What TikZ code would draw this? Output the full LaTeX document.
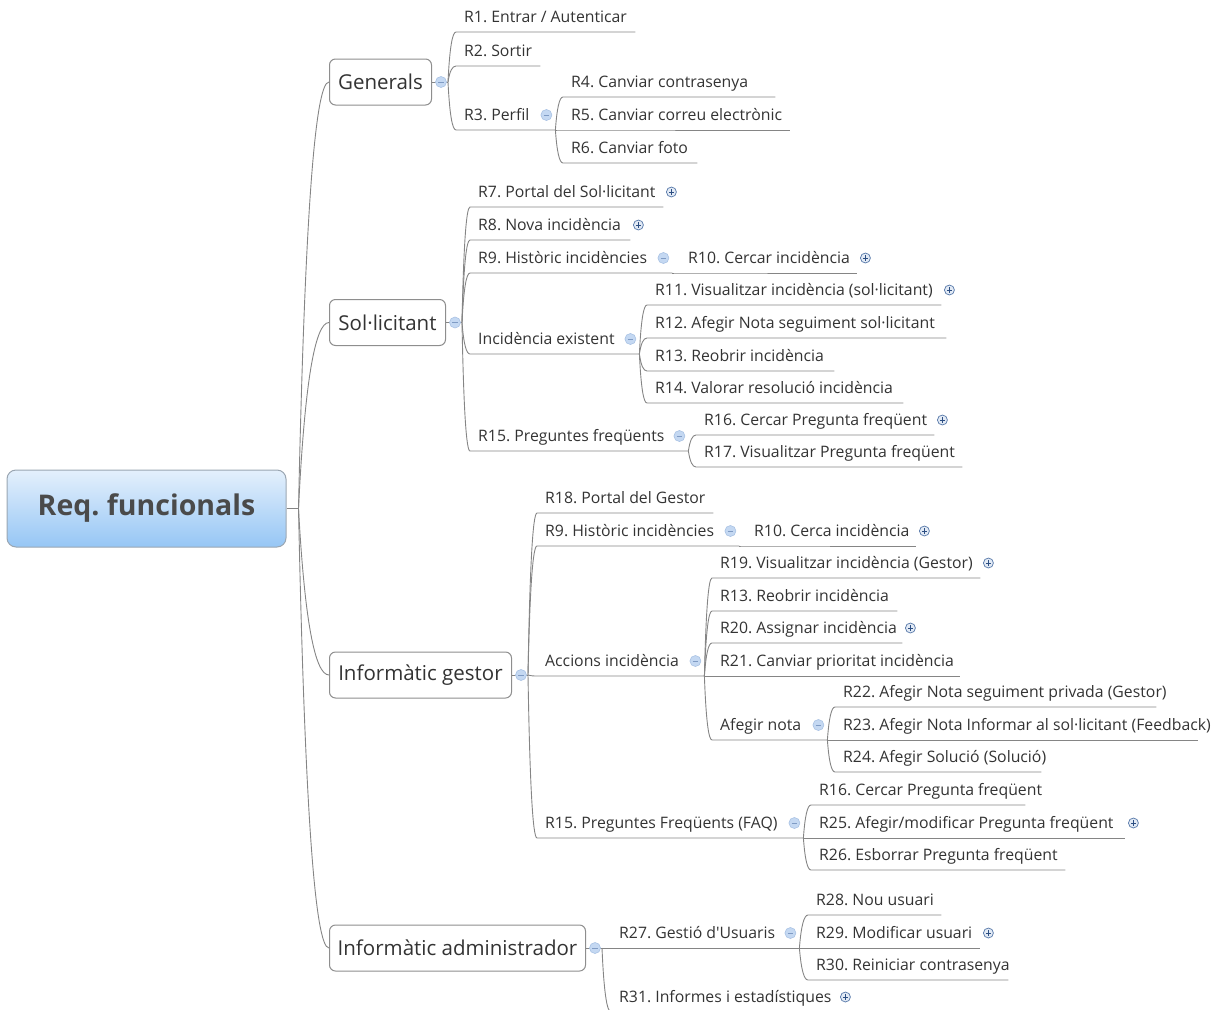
\documentclass[tikz,border=0pt]{standalone}
\usepackage{fontspec}
\setmainfont{Open Sans}
\usetikzlibrary{calc}
\frenchspacing

\definecolor{linegray}{HTML}{858585}
\definecolor{boxgray}{HTML}{8E8E8E}
\definecolor{ink}{HTML}{333333}
\definecolor{rootink}{HTML}{4A4A4A}
\definecolor{roottop}{HTML}{E4F0FC}
\definecolor{rootbot}{HTML}{96C6F5}
\definecolor{rootedge}{HTML}{9AA6B2}
\definecolor{foldfill}{HTML}{C4D8F2}
\definecolor{foldedge}{HTML}{A9C2E4}
\definecolor{foldbar}{HTML}{7F9BC4}
\definecolor{expfill}{HTML}{E2EAF5}
\definecolor{expedge}{HTML}{5577A8}
\definecolor{expbar}{HTML}{2C4E82}

\tikzset{
  conn/.style={draw=linegray, line width=0.9pt},
  roottopic/.style={draw=rootedge, line width=1pt, rounded corners=9pt,
    top color=roottop, bottom color=rootbot,
    minimum width=279pt, minimum height=77pt,
    font=\fontsize{28.5}{32}\selectfont\bfseries, text=rootink},
  topic/.style={anchor=west, draw=boxgray, line width=1pt, rounded corners=6pt,
    fill=white, minimum height=46pt, inner xsep=0pt,
    font=\fontsize{20.5}{24}\selectfont, text=ink},
  leaf/.style={anchor=south west, inner xsep=8pt, inner ysep=0pt,
    text height=12pt, text depth=9pt,
    font=\fontsize{15.8}{19}\selectfont, text=ink},
  fold/.style={circle, inner sep=0pt, minimum size=11pt, fill=foldfill,
    draw=foldedge, line width=0.6pt,
    path picture={\draw[foldbar, line width=1pt]
      ([xshift=-2.8pt]path picture bounding box.center) --
      ([xshift=2.8pt]path picture bounding box.center);}},
  expand/.style={circle, inner sep=0pt, minimum size=10pt, fill=expfill,
    draw=expedge, line width=0.7pt,
    path picture={\draw[expbar, line width=0.9pt]
      ([xshift=-2.6pt]path picture bounding box.center) --
      ([xshift=2.6pt]path picture bounding box.center)
      ([yshift=-2.6pt]path picture bounding box.center) --
      ([yshift=2.6pt]path picture bounding box.center);}},
}

% underlined topic: name, left x, underline y, right x, text
\newcommand\leaftopic[5]{%
  \node[leaf] (#1) at (#2,#3)
    {\makebox[\dimexpr #4pt-#2pt-16pt\relax][l]{#5}};}
% curved branch from a junction into a topic's underline
\newcommand\branchto[2]{%
  \draw[conn] let \p1=(#1), \p2=(#2.south west) in
    (\p1) .. controls ({\x1+0.2*(\x2-\x1)},{\y1+0.667*(\y2-\y1)})
          and ({\x2-0.467*(\x2-\x1)},{\y2}) .. (\p2) -- (#2.south east);}
% curved branch from a junction into a boxed topic
\newcommand\branchbox[2]{%
  \draw[conn] let \p1=(#1), \p2=(#2.west) in
    (\p1) .. controls ({\x1+0.2*(\x2-\x1)},{\y1+0.667*(\y2-\y1)})
          and ({\x2-0.467*(\x2-\x1)},{\y2}) .. (\p2);}
% collapse and expand markers of underlined topics
\newcommand\foldmark[1]{\node[fold] (#1-fold) at ([xshift=-9pt,yshift=15pt]#1.south east) {};}
\newcommand\expandmark[1]{\node[expand] (#1-more) at ([xshift=8pt,yshift=15pt]#1.south east) {};}

\begin{document}
\begin{tikzpicture}[x=1pt, y=-1pt]
\useasboundingbox (0,0) rectangle (1225,1009);
\clip (0,0) rectangle (1225,1009);

% central topic and main topics
\node[roottopic] (root) at (146.5,508.5) {Req. funcionals};
\coordinate (root-j) at ([xshift=12pt]root.east);

\node[topic, minimum width=102pt] (gen) at (329,82) {Generals};
\node[topic, minimum width=116pt] (sol) at (329,322.5) {Sol·licitant};
\node[topic, minimum width=182pt] (ges) at (329,675) {Informàtic gestor};
\node[topic, minimum width=256pt] (adm) at (329,948) {Informàtic administrador};
\foreach \t in {gen,sol,ges,adm} {\coordinate (\t-j) at ([xshift=16pt]\t.east);}

% Generals
\leaftopic{r1}{456}{32}{635}{R1. Entrar / Autenticar}
\leaftopic{r2}{456}{66}{540}{R2. Sortir}
\leaftopic{r3}{456}{130}{555}{R3. Perfil}
\leaftopic{r4}{563}{97}{775}{R4. Canviar contrasenya}
\leaftopic{r5}{563}{130}{790}{R5. Canviar correu electrònic}
\leaftopic{r6}{563}{163}{697}{R6. Canviar foto}

% Sol·licitant
\leaftopic{s7}{470}{207}{663}{R7. Portal del Sol·licitant}
\leaftopic{s8}{470}{240}{630}{R8. Nova incidència}
\leaftopic{s9}{470}{273}{672}{R9. Històric incidències}
\leaftopic{s10}{680}{273}{857}{R10. Cercar incidència}
\leaftopic{sie}{470}{354}{639}{Incidència existent}
\leaftopic{s11}{647}{305}{941}{R11. Visualitzar incidència (sol·licitant)}
\leaftopic{s12}{647}{338}{946}{R12. Afegir Nota seguiment sol·licitant}
\leaftopic{s13}{647}{371}{834}{R13. Reobrir incidència}
\leaftopic{s14}{647}{403}{903}{R14. Valorar resolució incidència}
\leaftopic{s15}{470}{451}{688}{R15. Preguntes freqüents}
\leaftopic{s16}{696}{435}{934}{R16. Cercar Pregunta freqüent}
\leaftopic{s17}{696}{467}{962}{R17. Visualitzar Pregunta freqüent}

% Informàtic gestor
\leaftopic{g18}{537}{513}{713}{R18. Portal del Gestor}
\leaftopic{g9}{537}{546}{739}{R9. Històric incidències}
\leaftopic{g10}{746}{546}{916}{R10. Cerca incidència}
\leaftopic{gac}{537}{676}{704}{Accions incidència}
\leaftopic{g19}{712}{578}{980}{R19. Visualitzar incidència (Gestor)}
\leaftopic{g13}{712}{611}{897}{R13. Reobrir incidència}
\leaftopic{g20}{712}{643}{902}{R20. Assignar incidència}
\leaftopic{g21}{712}{676}{960}{R21. Canviar prioritat incidència}
\leaftopic{gan}{712}{740}{827}{Afegir nota}
\leaftopic{g22}{835}{707}{1156}{R22. Afegir Nota seguiment privada (Gestor)}
\leaftopic{g23}{835}{740}{1198}{R23. Afegir Nota Informar al sol·licitant (Feedback)}
\leaftopic{g24}{835}{772}{1041}{R24. Afegir Solució (Solució)}
\leaftopic{g15}{537}{838}{803}{R15. Preguntes Freqüents (FAQ)}
\leaftopic{g16}{811}{805}{1025}{R16. Cercar Pregunta freqüent}
\leaftopic{g25}{811}{838}{1125}{R25. Afegir/modificar Pregunta freqüent}
\leaftopic{g26}{811}{870}{1065}{R26. Esborrar Pregunta freqüent}

% Informàtic administrador
\leaftopic{a27}{611}{948}{799}{R27. Gestió d\textquotesingle Usuaris}
\leaftopic{a28}{808}{915}{941}{R28. Nou usuari}
\leaftopic{a29}{808}{948}{980}{R29. Modificar usuari}
\leaftopic{a30}{808}{980}{1008}{R30. Reiniciar contrasenya}
\leaftopic{a31}{611}{1012}{837}{R31. Informes i estadístiques}

% branches
\draw[conn] (root.east) -- (root-j);
\foreach \t in {gen,sol,ges,adm} {
  \branchbox{root-j}{\t}
  \draw[conn] (\t.east) -- (\t-j);
}
\foreach \c in {r1,r2,r3} {\branchto{gen-j}{\c}}
\foreach \c in {r4,r5,r6} {\branchto{r3.south east}{\c}}
\foreach \c in {s7,s8,s9,sie,s15} {\branchto{sol-j}{\c}}
\branchto{s9.south east}{s10}
\foreach \c in {s11,s12,s13,s14} {\branchto{sie.south east}{\c}}
\foreach \c in {s16,s17} {\branchto{s15.south east}{\c}}
\foreach \c in {g18,g9,gac,g15} {\branchto{ges-j}{\c}}
\branchto{g9.south east}{g10}
\foreach \c in {g19,g13,g20,g21,gan} {\branchto{gac.south east}{\c}}
\foreach \c in {g22,g23,g24} {\branchto{gan.south east}{\c}}
\foreach \c in {g16,g25,g26} {\branchto{g15.south east}{\c}}
\foreach \c in {a27,a31} {\branchto{adm-j}{\c}}
\foreach \c in {a28,a29,a30} {\branchto{a27.south east}{\c}}

% collapse / expand markers
\foreach \t in {gen,sol,ges,adm} {\node[fold] (\t-fold) at ([xshift=9pt]\t.east) {};}
\foreach \t in {r3,s9,sie,s15,g9,gac,gan,g15,a27} {\foldmark{\t}}
\foreach \t in {s7,s8,s10,s11,s16,g10,g19,g20,g25,a29,a31} {\expandmark{\t}}
\end{tikzpicture}
\end{document}
